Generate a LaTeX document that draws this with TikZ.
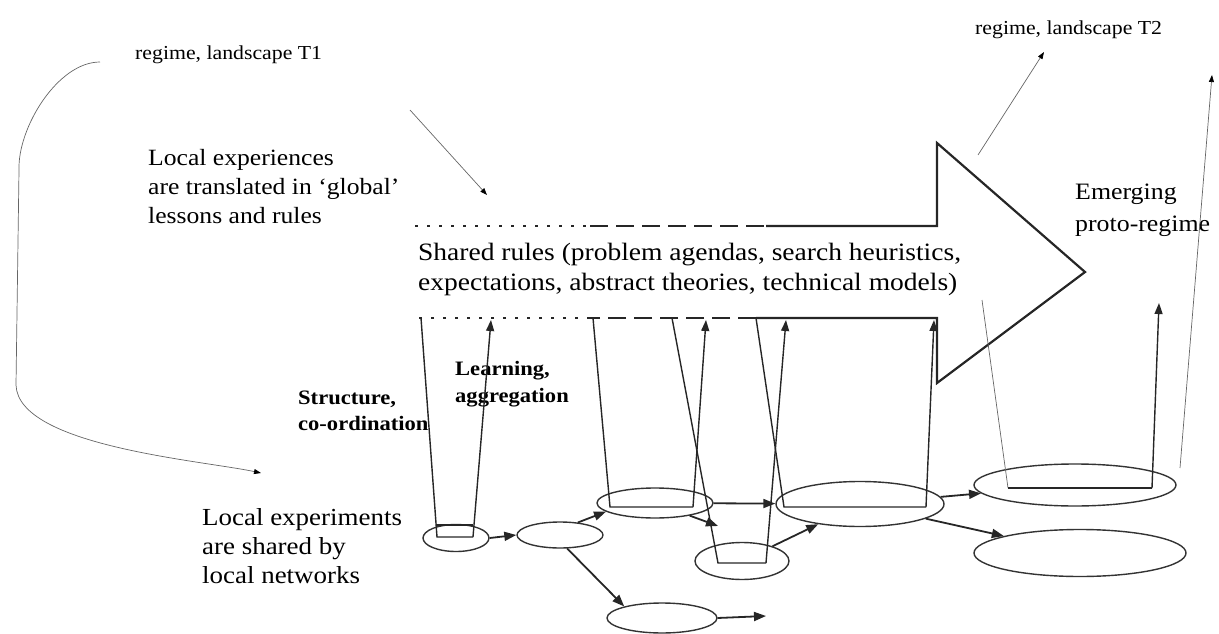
\documentclass[tikz,border=0pt]{standalone}
\usepackage{fontspec}
\setmainfont{Liberation Serif}[FakeStretch=1.1]
\usetikzlibrary{shapes.geometric,arrows.meta,positioning}

\tikzset{
  ring/.style={ellipse,draw=black!80,line width=1.4pt,inner sep=0pt},
  flow/.style={line width=1.8pt,draw=black!85,-{Triangle[length=12pt,width=9pt]}},
  riseline/.style={line width=1.4pt,draw=black!85},
  risetip/.style={-{Triangle[length=11pt,width=8pt]}},
  thinline/.style={line width=0.7pt,draw=black!60,-{Triangle[length=7pt,width=5pt,color=black]}},
  bigedge/.style={line width=2.2pt,draw=black!85},
  dotedge/.style={bigedge,dash pattern=on 3pt off 9pt},
  dashedge/.style={bigedge,dash pattern=on 18pt off 8pt},
  bigtext/.style={font=\fontsize{23.3}{29}\selectfont,align=left,anchor=west,inner sep=0pt},
  smalltext/.style={font=\bfseries\fontsize{20.5}{26.5}\selectfont,align=left,anchor=west,inner sep=0pt}
}

\begin{document}
\begin{tikzpicture}[x=1pt,y=-1pt]
\useasboundingbox (0,0) rectangle (1219,634);

% texts
\node[bigtext,font=\fontsize{19.8}{22}\selectfont] (T1) at (135,55) {regime, landscape T1};
\node[bigtext,font=\fontsize{19.8}{22}\selectfont] (T2) at (975,30) {regime, landscape T2};
\node[bigtext] (Translate) at (148,187) {Local experiences\\are translated in `global'\\lessons and rules};
\node[bigtext,font=\fontsize{25}{30}\selectfont] (Shared) at (418,269) {Shared rules (problem agendas, search heuristics,\\expectations, abstract theories, technical models)};
\node[bigtext,font=\fontsize{23.5}{32}\selectfont] (Emerging) at (1075,210) {Emerging\\proto-regime};
\node[bigtext,font=\fontsize{24.5}{29}\selectfont] (Experiments) at (202,546) {Local experiments\\are shared by\\local networks};
\node[smalltext] (Structure) at (298,411) {Structure,\\co-ordination};
\node[smalltext] (Learning) at (455,384) {Learning,\\aggregation};

% big arrow outline
\coordinate (TopA) at (415,226);
\coordinate (TopB) at (590,226);
\coordinate (TopC) at (766,226);
\coordinate (Back) at (937,226);
\coordinate (BarbUp) at (937,143);
\coordinate (Tip) at (1085,272);
\coordinate (BarbDown) at (937,383);
\coordinate (BotBack) at (937,318);
\coordinate (BotC) at (756,318);
\coordinate (BotB) at (590,318);
\coordinate (BotA) at (415,318);
\draw[dotedge] (TopA) -- (TopB);
\draw[dashedge] (TopB) -- (TopC);
\draw[bigedge,line join=miter] (TopC) -- (Back) -- (BarbUp) -- (Tip) -- (BarbDown) -- (BotBack) -- (BotC);
\draw[dashedge] (BotC) -- (BotB);
\draw[dotedge] (BotB) -- (BotA);

% local networks
\node[ring,minimum width=66pt,minimum height=27pt] (e1) at (456,538) {};
\node[ring,minimum width=86pt,minimum height=26pt] (e2) at (560,535) {};
\node[ring,minimum width=116pt,minimum height=30pt] (e3) at (655,503) {};
\node[ring,minimum width=110pt,minimum height=30pt] (e4) at (662,618) {};
\node[ring,minimum width=94pt,minimum height=37pt] (e5) at (742,561) {};
\node[ring,minimum width=168pt,minimum height=45pt] (e6) at (860,504) {};
\node[ring,minimum width=202pt,minimum height=42pt] (e7) at (1075,485) {};
\node[ring,minimum width=212pt,minimum height=47pt] (e8) at (1080,553) {};

\coordinate (e4out) at (766,616);
\coordinate (e5in) at (718,526);
\draw[flow] (e1.east) -- (e2.west);
\draw[flow] (e2.35) -- (e3.190);
\draw[flow] (e2.-62) -- (e4.163);
\draw[flow] (e4.east) -- (e4out);
\draw[flow] (e3.-20) -- (e5in);
\draw[flow] (e3) -- (e6);
\draw[flow] (e5) -- (e6);
\draw[flow] (e6) -- (e7);
\draw[flow] (e6) -- (e8);

% structure down, learning up
\foreach \n/\xa/\xb/\xc/\xd/\yb in {1/421/437/473/491/537, 2/593/610/693/706/507, 3/672/718/766/786/563, 4/756/784/926/934/507}
{
  \coordinate (U\n top) at (\xa,318);
  \coordinate (U\n left) at (\xb,\yb);
  \coordinate (U\n right) at (\xc,\yb);
  \coordinate (U\n tip) at (\xd,320);
  \draw[riseline] (U\n top) -- (U\n left) -- (U\n right);
  \draw[riseline,risetip] (U\n right) -- (U\n tip);
}
\draw[riseline,line width=1.1pt] (437,525) -- (473,525);

\coordinate (U5top) at (982,300);
\coordinate (U5left) at (1008,488);
\coordinate (U5right) at (1152,488);
\coordinate (U5tip) at (1159,303);
\draw[line width=0.7pt,draw=black!60] (U5top) -- (U5left);
\draw[riseline] (U5left) -- (U5right);
\draw[riseline,risetip] (U5right) -- (U5tip);

% regime links
\coordinate (T1from) at (410,110);
\coordinate (T1to) at (487,195);
\coordinate (T2from) at (978,155);
\coordinate (T2to) at (1044,52);
\coordinate (RightFrom) at (1180,468);
\coordinate (RightTo) at (1212,75);
\coordinate (CurveStart) at (100,62);
\coordinate (CurveEnd) at (261,473);
\draw[thinline] (T1from) -- (T1to);
\draw[thinline] (T2from) -- (T2to);
\draw[thinline] (RightFrom) -- (RightTo);
\draw[thinline] (CurveStart) to[out=180,in=92,looseness=0.8] (19,170) -- (16,385) to[out=-88,in=168,looseness=0.6] (CurveEnd);
\end{tikzpicture}
\end{document}
